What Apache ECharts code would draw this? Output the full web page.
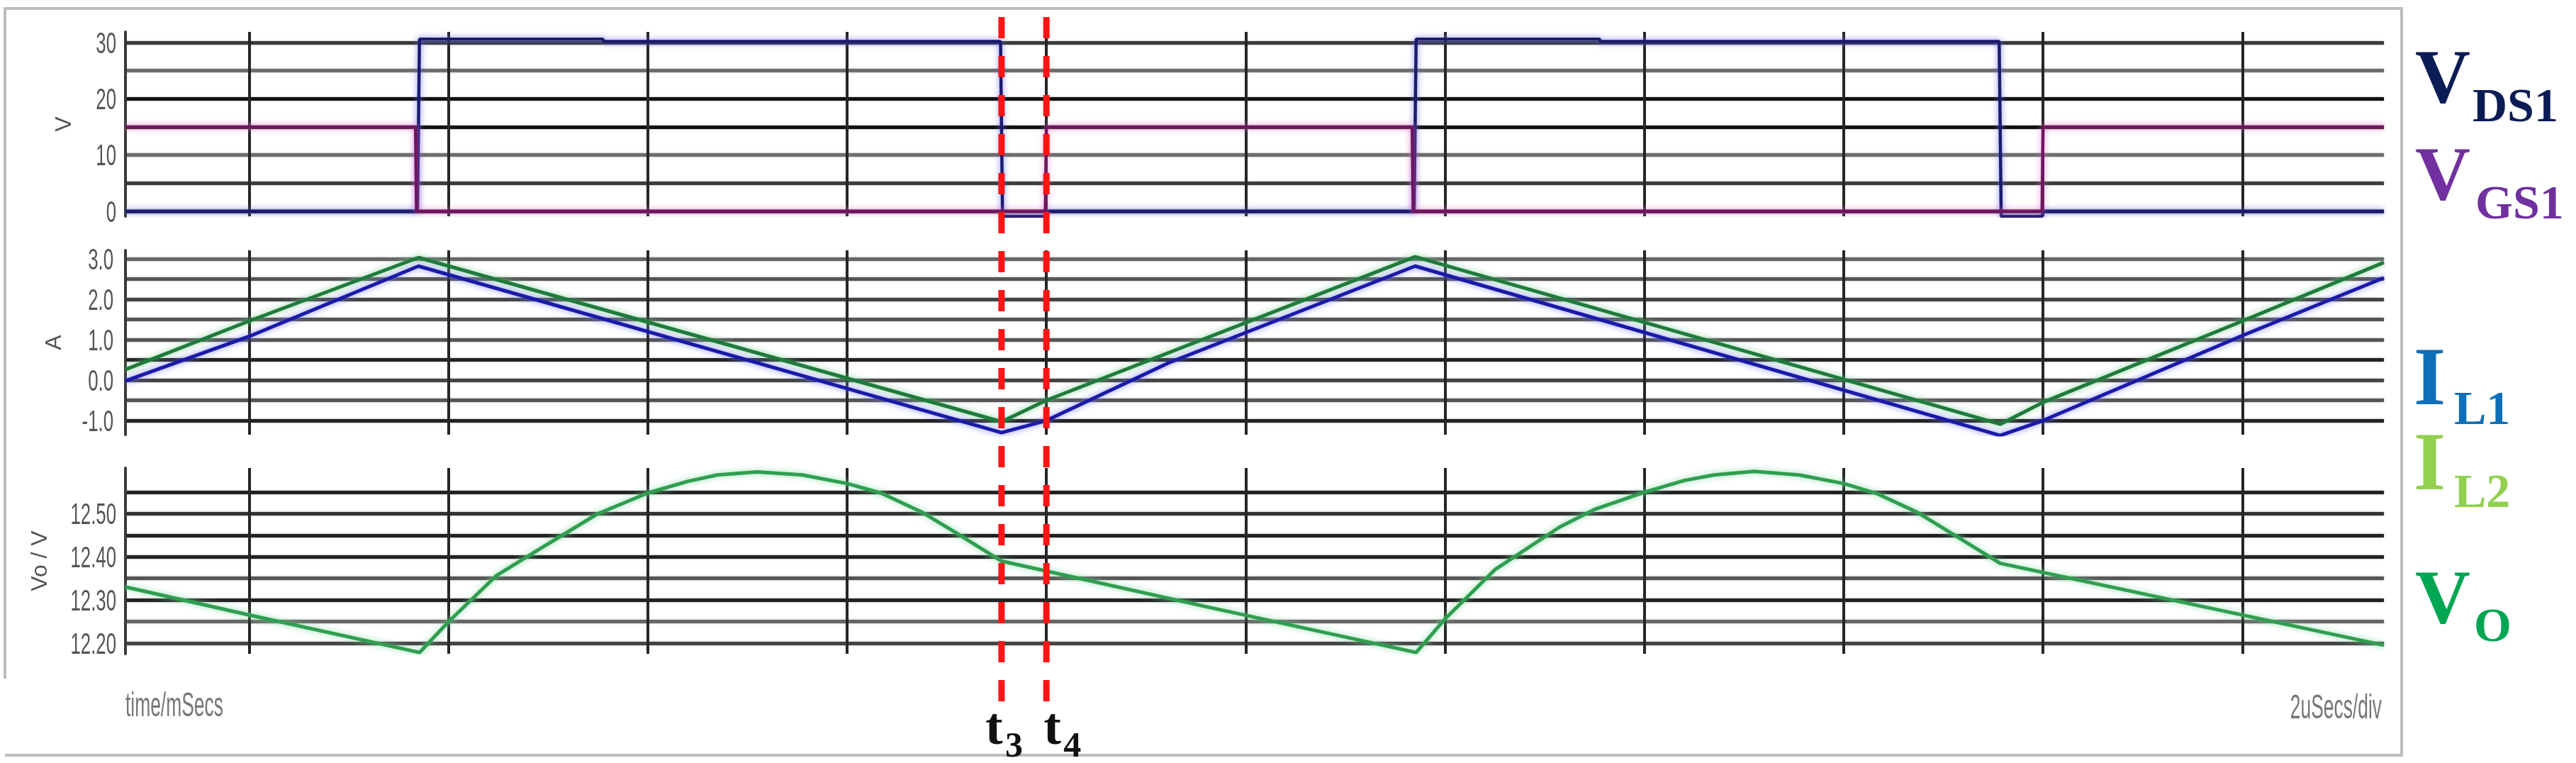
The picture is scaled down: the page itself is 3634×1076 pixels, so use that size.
<!DOCTYPE html>
<html>
<head>
<meta charset="utf-8">
<title>VDS1 / VGS1 / IL1 / IL2 / VO waveforms</title>
<script src="https://cdn.jsdelivr.net/npm/echarts@6/dist/echarts.min.js"></script>
<style>
  html, body { margin: 0; padding: 0; background: #fff; }
  #chart { width: 3634px; height: 1076px; }
</style>
</head>
<body>
<div id="chart"></div>
<script>
// time axis in us, 2 us per division
const tStart = 0.76
const tEnd = 23.42
const divTicks = [2, 4, 6, 8, 10, 12, 14, 16, 18, 20, 22]

// panel 1 (V)
const vTicks = [0, 5, 10, 15, 20, 25, 30]
const vLabels = [0, 10, 20, 30]
const vdsT = [0.76, 3.69, 3.71, 5.55, 5.56, 9.54, 9.56, 9.99, 10.0, 13.69, 13.71, 15.55, 15.56, 19.56, 19.58, 19.99, 20.0, 23.42]
const vdsV = [0, 0, 30.6, 30.6, 30.2, 30.2, -0.9, -0.9, 0, 0, 30.6, 30.6, 30.2, 30.2, -0.9, -0.9, 0, 0]
const vgsT = [0.76, 3.67, 3.68, 9.99, 10.0, 13.67, 13.68, 19.99, 20.0, 23.42]
const vgsV = [15, 15, 0, 0, 15, 15, 0, 0, 15, 15]

// panel 2 (A)
const iTicks = [-1, -0.5, 0, 0.5, 1, 1.5, 2, 2.5, 3]
const iLabels = [-1, 0, 1, 2, 3]
const il1T = [0.76, 2.0, 3.70, 9.55, 10.0, 11.23, 13.70, 19.57, 20.0, 22.0, 23.42]
const il1V = [-0.02, 1.08, 2.82, -1.30, -1.00, 0.43, 2.82, -1.37, -1.00, 1.10, 2.53]
const il2T = [0.76, 2.0, 3.70, 9.55, 10.0, 13.70, 19.57, 20.0, 22.0, 23.42]
const il2V = [0.26, 1.46, 3.03, -1.03, -0.50, 3.05, -1.09, -0.55, 1.46, 2.91]

// panel 3 (Vo / V)
const voTicks = [12.2, 12.25, 12.3, 12.35, 12.4, 12.45, 12.5, 12.55]
const voLabels = [12.2, 12.3, 12.4, 12.5]
const voT = [0.76, 2.0, 3.71, 4.0, 4.48, 5.0, 5.5, 6.0, 6.4, 6.7, 7.1, 7.55, 8.0, 8.34, 8.74, 9.1, 9.55, 11.59,
  13.71, 14.0, 14.5, 15.15, 15.5, 16.0, 16.4, 16.7, 17.1, 17.55, 18.0, 18.34, 18.74, 19.1, 19.57, 23.42]
const voV = [12.330, 12.265, 12.178, 12.249, 12.356, 12.43, 12.50, 12.548, 12.575, 12.59, 12.597, 12.59, 12.57, 12.548, 12.505, 12.455, 12.39, 12.285,
  12.178, 12.256, 12.37, 12.469, 12.51, 12.55, 12.577, 12.59, 12.598, 12.59, 12.57, 12.546, 12.503, 12.452, 12.385, 12.195]

// t3 / t4 markers
const markerTimes = [9.55, 10.0]
const markerSubs = ['3', '4']

const narrow = "'Liberation Sans', 'Arial', sans-serif"
const serif = "'Liberation Serif', 'DejaVu Serif', serif"

const zip = (ts, vs) => ts.map((t, i) => [t, vs[i]])

function timeAxis(i) {
  return {
    type: 'value',
    gridIndex: i,
    min: tStart,
    max: tEnd,
    axisLine: { show: false },
    axisTick: { show: false, customValues: divTicks },
    axisLabel: { show: false, customValues: divTicks },
    splitLine: { show: true, lineStyle: { color: '#262626', width: 4 } },
  }
}

function levelAxis(i, min, max, ticks, colors, name, nameGap) {
  return {
    type: 'value',
    gridIndex: i,
    min,
    max,
    name,
    nameLocation: 'middle',
    nameGap,
    nameTextStyle: { color: '#555', fontSize: 32, fontFamily: narrow },
    axisLine: { show: true, lineStyle: { color: '#3a3a3a', width: 4 } },
    axisTick: { show: false, customValues: ticks },
    axisLabel: { show: false, customValues: ticks },
    splitLine: {
      show: true,
      lineStyle: { color: colors, width: 5, shadowBlur: 3, shadowColor: 'rgba(0,0,0,0.35)' },
    },
  }
}

function trace(name, ts, vs, axis, color, glow, width) {
  return {
    name,
    type: 'line',
    xAxisIndex: axis,
    yAxisIndex: axis,
    data: zip(ts, vs),
    showSymbol: false,
    silent: true,
    lineStyle: { color, width, shadowColor: glow, shadowBlur: 8 },
    z: 5,
  }
}

function txt(id, text, x, y, font, fill, align, extra) {
  return Object.assign({
    type: 'text',
    id,
    x,
    y,
    style: { text, x: 0, y: 0, font, fill, align, verticalAlign: 'middle', textAlign: align, textVerticalAlign: 'middle' },
  }, extra || {})
}

function legendText(id, main, sub, color, x, y, subX, subY, size) {
  return [
    txt(id + '-m', main, x, y, 'bold ' + (size || 108) + 'px ' + serif, color, 'left'),
    txt(id + '-s', sub, subX, subY, 'bold 68px ' + serif, color, 'left'),
  ]
}

const baseGraphic = [
  {
    type: 'polyline',
    id: 'frame',
    shape: { points: [[7, 957], [7, 12], [3388, 12], [3388, 1065], [7, 1065]] },
    style: { stroke: '#bdbdbd', lineWidth: 4, fill: null },
    z: 1,
  },
  txt('time-unit', 'time/mSecs', 177, 997, '48px ' + narrow, '#777', 'left', { scaleX: 0.55 }),
  txt('div-unit', '2uSecs/div', 3360, 1000, '48px ' + narrow, '#777', 'right', { scaleX: 0.55 }),
  ...legendText('vds', 'V', 'DS1', '#0b1c55', 3407, 116, 3488, 153),
  ...legendText('vgs', 'V', 'GS1', '#7030a0', 3407, 253, 3492, 290),
  ...legendText('il1', 'I', 'L1', '#0e6fb8', 3405, 540, 3462, 580, 116),
  ...legendText('il2', 'I', 'L2', '#92d050', 3405, 660, 3462, 697, 116),
  ...legendText('vo', 'V', 'O', '#00a651', 3407, 850, 3490, 886),
]

const option = {
  animation: false,
  backgroundColor: '#fff',
  grid: [
    { left: 177, right: 271, top: 45, height: 260 },
    { left: 177, right: 271, top: 353, height: 260 },
    { left: 177, right: 271, top: 660, height: 262 },
  ],
  xAxis: [timeAxis(0), timeAxis(1), timeAxis(2)],
  yAxis: [
    levelAxis(0, -0.9, 31.9, vTicks,
      ['#333', '#3c3c3c', '#6e6e6e', '#111', '#111', '#6e6e6e', '#3a3a3a'], 'V', 70),
    levelAxis(1, -1.35, 3.21, iTicks,
      ['#222', '#555', '#444', '#222', '#555', '#555', '#444', '#555', '#666'], 'A', 84),
    levelAxis(2, 12.175, 12.606, voTicks,
      ['#444', '#666', '#222', '#555', '#222', '#222', '#333', '#222'], 'Vo / V', 104),
  ],
  series: [
    trace('VDS1', vdsT, vdsV, 0, '#1b1b6e', 'rgba(100,100,235,0.85)', 4.5),
    trace('VGS1', vgsT, vgsV, 0, '#6e1660', 'rgba(235,110,200,0.85)', 4.5),
    trace('IL1', il1T, il1V, 1, '#1a1aa8', 'rgba(110,110,255,0.85)', 5),
    trace('IL2', il2T, il2V, 1, '#1e7b3c', 'rgba(120,200,140,0.85)', 5),
    trace('VO', voT, voV, 2, '#2f9e50', 'rgba(130,215,160,0.85)', 5),
  ],
  graphic: baseGraphic,
}

const chart = echarts.init(document.getElementById('chart'))
chart.setOption(option)

const extra = []

// tall narrow tick labels, placed through each value axis
const labelSets = [
  { axis: 0, values: vLabels, digits: 0, right: 164 },
  { axis: 1, values: iLabels, digits: 1, right: 160 },
  { axis: 2, values: voLabels, digits: 2, right: 164 },
]
labelSets.forEach((set) => {
  set.values.forEach((v, j) => {
    const y = chart.convertToPixel({ yAxisIndex: set.axis }, v)
    extra.push(txt('lbl-' + set.axis + '-' + j, v.toFixed(set.digits), set.right, y + 3,
      '43px ' + narrow, '#555', 'right', { scaleX: 0.6 }))
  })
})

// red dashed t3 / t4 markers, placed through the time scale
markerTimes.forEach((t, k) => {
  const x = chart.convertToPixel({ xAxisIndex: 0 }, t)
  extra.push({
    type: 'line',
    id: 'mk-line-' + k,
    shape: { x1: x, y1: 24, x2: x, y2: 990 },
    style: { stroke: '#ff1414', lineWidth: 9, lineDash: [30, 25] },
    z: 50,
  })
  const tx = k === 0 ? x - 23 : x - 4
  const sx = k === 0 ? x + 5 : x + 24
  extra.push(txt('mk-t-' + k, 't', tx, 1030, 'bold 74px ' + serif, '#111', 'left', { z: 50 }))
  extra.push(txt('mk-s-' + k, markerSubs[k], sx, 1054, 'bold 50px ' + serif, '#111', 'left', { z: 50 }))
})
chart.setOption({ graphic: extra })
</script>
</body>
</html>
